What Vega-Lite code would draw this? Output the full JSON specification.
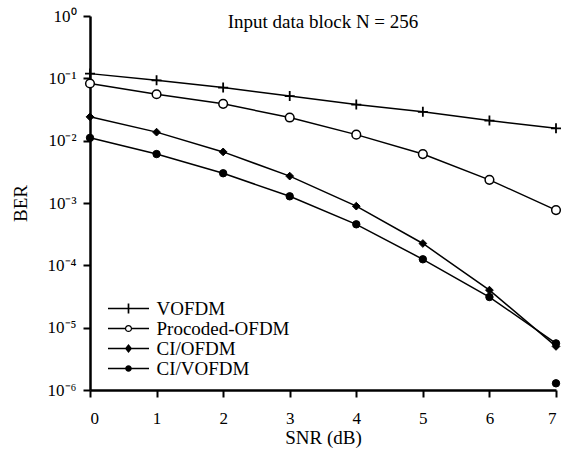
{
  "$schema": "https://vega.github.io/schema/vega-lite/v6.json",
  "width": 466,
  "height": 374,
  "autosize": {"type": "none"},
  "padding": {"left": 90, "top": 16, "right": 7, "bottom": 65},
  "background": "white",
  "config": {
    "view": {"stroke": null},
    "font": "Liberation Serif",
    "axis": {
      "grid": false,
      "domainColor": "black",
      "domainWidth": 2.5,
      "tickColor": "black",
      "tickWidth": 2,
      "tickSize": 7,
      "labelFont": "Liberation Serif",
      "labelFontSize": 17,
      "labelColor": "black",
      "titleFont": "Liberation Serif",
      "titleFontSize": 19,
      "titleFontWeight": "normal",
      "titleColor": "black"
    }
  },
  "data": {
    "values": [
      {"snr": 0, "ber": 0.119, "series": "VOFDM", "kind": "curve"},
      {"snr": 1, "ber": 0.093, "series": "VOFDM", "kind": "curve"},
      {"snr": 2, "ber": 0.071, "series": "VOFDM", "kind": "curve"},
      {"snr": 3, "ber": 0.052, "series": "VOFDM", "kind": "curve"},
      {"snr": 4, "ber": 0.038, "series": "VOFDM", "kind": "curve"},
      {"snr": 5, "ber": 0.029, "series": "VOFDM", "kind": "curve"},
      {"snr": 6, "ber": 0.021, "series": "VOFDM", "kind": "curve"},
      {"snr": 7, "ber": 0.0158, "series": "VOFDM", "kind": "curve"},
      {"snr": 0, "ber": 0.0826, "series": "Procoded-OFDM", "kind": "curve"},
      {"snr": 1, "ber": 0.0556, "series": "Procoded-OFDM", "kind": "curve"},
      {"snr": 2, "ber": 0.039, "series": "Procoded-OFDM", "kind": "curve"},
      {"snr": 3, "ber": 0.0235, "series": "Procoded-OFDM", "kind": "curve"},
      {"snr": 4, "ber": 0.0125, "series": "Procoded-OFDM", "kind": "curve"},
      {"snr": 5, "ber": 0.0061, "series": "Procoded-OFDM", "kind": "curve"},
      {"snr": 6, "ber": 0.00235, "series": "Procoded-OFDM", "kind": "curve"},
      {"snr": 7, "ber": 0.00077, "series": "Procoded-OFDM", "kind": "curve"},
      {"snr": 0, "ber": 0.0241, "series": "CI/OFDM", "kind": "curve"},
      {"snr": 1, "ber": 0.0137, "series": "CI/OFDM", "kind": "curve"},
      {"snr": 2, "ber": 0.0066, "series": "CI/OFDM", "kind": "curve"},
      {"snr": 3, "ber": 0.0027, "series": "CI/OFDM", "kind": "curve"},
      {"snr": 4, "ber": 0.00089, "series": "CI/OFDM", "kind": "curve"},
      {"snr": 5, "ber": 0.000224, "series": "CI/OFDM", "kind": "curve"},
      {"snr": 6, "ber": 0.00004, "series": "CI/OFDM", "kind": "curve"},
      {"snr": 7, "ber": 0.000005, "series": "CI/OFDM", "kind": "curve"},
      {"snr": 0, "ber": 0.0111, "series": "CI/VOFDM", "kind": "curve"},
      {"snr": 1, "ber": 0.0061, "series": "CI/VOFDM", "kind": "curve"},
      {"snr": 2, "ber": 0.003, "series": "CI/VOFDM", "kind": "curve"},
      {"snr": 3, "ber": 0.00128, "series": "CI/VOFDM", "kind": "curve"},
      {"snr": 4, "ber": 0.000455, "series": "CI/VOFDM", "kind": "curve"},
      {"snr": 5, "ber": 0.000125, "series": "CI/VOFDM", "kind": "curve"},
      {"snr": 6, "ber": 0.000031, "series": "CI/VOFDM", "kind": "curve"},
      {"snr": 7, "ber": 0.0000056, "series": "CI/VOFDM", "kind": "curve"},
      {"snr": 7, "ber": 0.00000128, "series": "CI/VOFDM", "kind": "stray"}
    ]
  },
  "encoding": {
    "x": {
      "field": "snr", "type": "quantitative",
      "scale": {"domain": [0, 7], "nice": false},
      "axis": {"values": [0, 1, 2, 3, 4, 5, 6, 7], "title": "SNR (dB)", "labelPadding": 13, "titlePadding": 2, "labelFont": "Liberation Serif", "titleFont": "Liberation Serif"}
    },
    "y": {
      "field": "ber", "type": "quantitative",
      "scale": {"type": "log", "domain": [0.000001, 1], "nice": false},
      "axis": {
        "values": [0.000001, 0.00001, 0.0001, 0.001, 0.01, 0.1, 1],
        "title": "BER",
        "labelPadding": 7,
        "titlePadding": 17,
        "labelFont": "Liberation Serif",
        "titleFont": "Liberation Serif",
        "labelExpr": "'10' + ['⁰','⁻¹','⁻²','⁻³','⁻⁴','⁻⁵','⁻⁶'][round(-log(datum.value)/LN10)]"
      }
    }
  },
  "layer": [
    {
      "transform": [{"filter": "datum.kind == 'curve'"}],
      "mark": {"type": "line", "color": "black", "strokeWidth": 1.5},
      "encoding": {"detail": {"field": "series"}}
    },
    {
      "transform": [{"filter": "datum.series == 'VOFDM'"}],
      "mark": {"type": "point", "shape": "M-1,0H1M0,-1V1", "size": 100, "filled": false, "stroke": "black", "strokeWidth": 1.8, "opacity": 1}
    },
    {
      "transform": [{"filter": "datum.series == 'Procoded-OFDM'"}],
      "mark": {"type": "point", "shape": "circle", "size": 75, "filled": true, "fill": "white", "stroke": "black", "strokeWidth": 1.5, "opacity": 1}
    },
    {
      "transform": [{"filter": "datum.series == 'CI/OFDM'"}],
      "mark": {"type": "point", "shape": "diamond", "size": 60, "filled": true, "fill": "black", "stroke": "black", "strokeWidth": 1, "opacity": 1}
    },
    {
      "transform": [{"filter": "datum.series == 'CI/VOFDM'"}],
      "mark": {"type": "point", "shape": "circle", "size": 55, "filled": true, "fill": "black", "stroke": "black", "strokeWidth": 1, "opacity": 1}
    },
    {
      "transform": [{"filter": "datum.kind == 'curve'"}],
      "mark": {"type": "point", "filled": true, "fill": "black", "stroke": "black", "strokeWidth": 1.5, "opacity": 0},
      "encoding": {
        "shape": {
          "field": "series",
          "scale": {
            "domain": ["VOFDM", "Procoded-OFDM", "CI/OFDM", "CI/VOFDM"],
            "range": [
              "M-4.1,-0.15H4.1V0.15H-4.1ZM-0.17,-1H0.17V1H-0.17Z",
              "M-4.1,-0.15H-0.68V0.15H-4.1ZM0.68,-0.15H4.1V0.15H0.68ZM0.72,0A0.72,0.72,0,1,1,-0.72,0A0.72,0.72,0,1,1,0.72,0ZM0.47,0A0.47,0.47,0,1,0,-0.47,0A0.47,0.47,0,1,0,0.47,0Z",
              "M-4.1,-0.15H4.1V0.15H-4.1ZM0,-0.9L0.72,0L0,0.9L-0.72,0Z",
              "M-4.1,-0.15H4.1V0.15H-4.1ZM0.66,0A0.66,0.66,0,1,1,-0.66,0A0.66,0.66,0,1,1,0.66,0Z"
            ]
          },
          "legend": {
            "title": null,
            "orient": "none",
            "legendX": 29,
            "legendY": 283,
            "symbolSize": 100,
            "symbolOpacity": 1,
            "symbolFillColor": "black",
            "symbolStrokeColor": "black",
            "symbolStrokeWidth": 0,
            "labelFont": "Liberation Serif",
            "labelFontSize": 19,
            "labelColor": "black",
            "labelOffset": 18.5,
            "rowPadding": 0
          }
        }
      }
    },
    {
      "data": {"values": [{"snr": 3.5, "ber": 0.79, "label": "Input data block N = 256"}]},
      "mark": {"type": "text", "font": "Liberation Serif", "fontSize": 19, "color": "black"},
      "encoding": {"text": {"field": "label"}}
    }
  ]
}
